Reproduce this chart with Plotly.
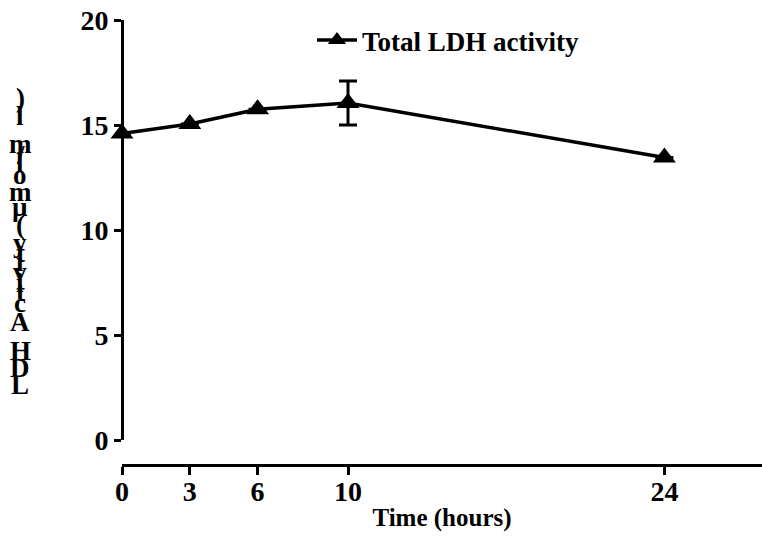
import plotly.graph_objects as go

# ---- data ----
time_hours = [0, 3, 6, 10, 24]
total_ldh = [14.6, 15.05, 15.75, 16.05, 13.45]
total_ldh_err = [0.0, 0.0, 0.0, 1.05, 0.0]
x_tick_vals = [0, 3, 6, 10, 24]
x_tick_text = ["0", "3", "6", "10", "24"]
y_tick_vals = [0, 5, 10, 15, 20]
y_tick_text = ["0", "5", "10", "15", "20"]
series_name = "Total LDH activity"
x_title = "Time (hours)"
y_title_chars = ["L", "D", "H", "A", "c", "t", "i", "v", "i", "t", "y",
                 "(", "µ", "m", "o", "l", "/", "m", "l", ")"]

# ---- layout geometry (pixels) ----
W, H = 762, 545
ML, MR, MT, MB = 122, 0, 20, 80
PW, PH = W - ML - MR, H - MT - MB
y_char_px = [385, 368, 351, 322, 303, 292, 283, 272, 262, 253, 243,
             225, 207, 192, 175, 163, 155, 144, 116, 98]
y_char_x = 20

FONT = "Liberation Serif"

fig = go.Figure()
fig.add_trace(go.Scatter(
    x=time_hours, y=total_ldh, name=series_name,
    mode="lines+markers",
    line=dict(color="black", width=3.5),
    marker=dict(symbol="triangle-up", size=20, color="black"),
    error_y=dict(type="data", array=total_ldh_err, visible=True,
                 color="black", thickness=3, width=9),
    showlegend=True, cliponaxis=False,
))

annotations = []
for ch, py in zip(y_title_chars, y_char_px):
    annotations.append(dict(
        text=ch, xref="paper", yref="paper",
        x=(y_char_x - ML) / PW, y=(H - MB - py) / PH,
        xanchor="center", yanchor="middle", showarrow=False,
        font=dict(family=FONT, size=27, color="black", weight="bold"),
    ))

fig.update_layout(
    width=W, height=H,
    margin=dict(l=ML, r=MR, t=MT, b=MB, pad=0),
    paper_bgcolor="white", plot_bgcolor="white",
    font=dict(family=FONT, size=24, color="black", weight="bold"),
    xaxis=dict(
        range=[0, PW / 22.6], domain=[0, 1], anchor="free", position=0,
        showline=True, linecolor="black", linewidth=3,
        ticks="outside", ticklen=8, tickwidth=3, tickcolor="black",
        tickvals=x_tick_vals, ticktext=x_tick_text,
        ticklabelstandoff=-8,
        showgrid=False, zeroline=False,
        tickfont=dict(family=FONT, size=28, color="black", weight="bold"),
        title=dict(text=x_title, standoff=2,
                   font=dict(family=FONT, size=25, color="black", weight="bold")),
    ),
    yaxis=dict(
        range=[0, 20], domain=[(465 - 440) / PH, 1], anchor="free", position=0,
        showline=True, linecolor="black", linewidth=3,
        ticks="outside", ticklen=7, tickwidth=3, tickcolor="black",
        tickvals=y_tick_vals, ticktext=y_tick_text,
        showgrid=False, zeroline=False,
        tickfont=dict(family=FONT, size=28, color="black", weight="bold"),
    ),
    legend=dict(
        x=(312 - ML) / PW, y=(H - MB - 16) / PH, xanchor="left", yanchor="top",
        bgcolor="rgba(0,0,0,0)", borderwidth=0, itemwidth=40,
        font=dict(family=FONT, size=27, color="black", weight="bold"),
    ),
    annotations=annotations,
)

fig.write_html("out.html")
